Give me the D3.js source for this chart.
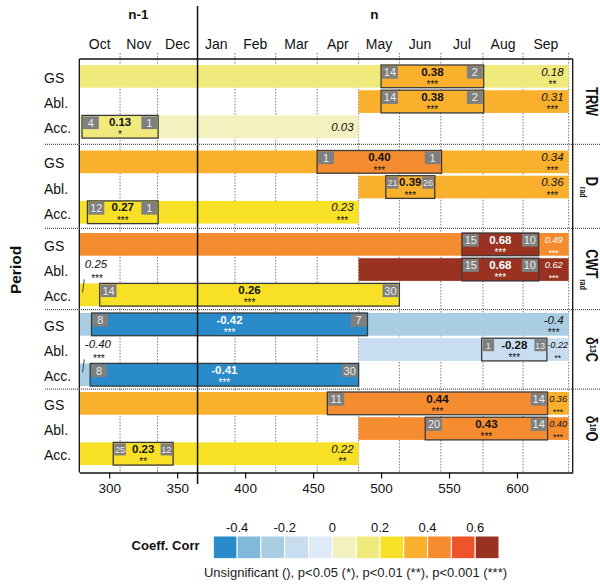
<!DOCTYPE html>
<html>
<head>
<meta charset="utf-8">
<script src="https://cdn.jsdelivr.net/npm/d3@7"></script>
<style>
  body { margin: 0; background: #fff; }
  svg { display: block; }
  text { font-family: "Liberation Sans", Arial, Helvetica, sans-serif; }
</style>
</head>
<body>
<svg id="chart" width="600" height="587"></svg>
<script>
// ---- data -------------------------------------------------------------
// Panels (proxies) and the three seasonal periods shown in each panel
const proxies = ["TRW", "D_{rad}", "CWT_{rad}", "δ^{13}C", "δ^{18}O"];
const periods = ["GS", "Abl.", "Acc."];

// Months of the hydrological year and the day-of-year of their boundaries
const months = ["Oct", "Nov", "Dec", "Jan", "Feb", "Mar", "Apr", "May", "Jun", "Jul", "Aug", "Sep"];
const monthEdges = [278, 308, 335.5, 365, 392.5, 422.5, 453, 483.5, 513.5, 544, 575, 604.5, 638];
const dayTicks = [300, 350, 400, 450, 500, 550, 600];
const yearLabels = ["n-1", "n"];

// Seasonal correlation per row (rows ordered GS, Abl., Acc. within each proxy)
const bandStart = [278, 483.5, 278,   278, 483.5, 278,   278, 483.5, 278,     278, 483.5, 278,     278, 483.5, 278];
const bandEnd   = [638, 638, 483.5,   638, 638, 483.5,   638, 638, 513.5,     638, 638, 483.5,     638, 638, 483.5];
const bandValue = ["0.18", "0.31", "0.03", "0.34", "0.36", "0.23", "0.49", "0.62", "0.25", "-0.4", "-0.22", "-0.40", "0.36", "0.40", "0.22"];
const bandSig   = ["**", "***", "",   "***", "***", "***",   "***", "***", "***",   "***", "**", "***",   "***", "***", "**"];

// Strongest correlation window per row, with its first / last window indices
const winStart = [500, 500, 280,      453, 503.5, 284,   559.5, 559.5, 293,   287, 574, 286,   460.5, 532.5, 303];
const winEnd   = [575.5, 575.5, 336,  544.5, 539.5, 336, 616, 616, 513.5,     490, 622, 483.5, 622.5, 622.5, 347];
const winValue = ["0.38", "0.38", "0.13", "0.40", "0.39", "0.27", "0.68", "0.68", "0.26", "-0.42", "-0.28", "-0.41", "0.44", "0.43", "0.23"];
const winSig   = ["***", "***", "*",  "***", "***", "***",  "***", "***", "***",  "***", "***", "***",  "***", "***", "**"];
const winFirst = ["14", "14", "4",    "1", "21", "12",     "15", "15", "14",    "8", "1", "8",      "11", "20", "25"];
const winLast  = ["2", "2", "1",      "1", "26", "1",      "10", "10", "30",    "7", "13", "30",    "14", "14", "12"];

// Colour key
const legendBreaks = [-0.5, -0.4, -0.3, -0.2, -0.1, 0, 0.1, 0.2, 0.3, 0.4, 0.5, 0.6, 0.7];
const legendColors = ["#2a8bcb", "#80b9d9", "#a9cde3", "#c8def0", "#deebf6", "#f4f1c1",
                      "#f0ea7c", "#f7e026", "#f9b02d", "#f58d30", "#ee542c", "#9a3221"];
const legendTicks = [-0.4, -0.2, 0, 0.2, 0.4, 0.6];

// ---- layout ----------------------------------------------------------
const svg = d3.select("#chart");
const plotL = 79.3, plotR = 572.7, plotT = 59, plotB = 472.5;
const panelTop = [65, 150.5, 233, 313, 392];
const rowStep = 25.2, barH = 22.7;

const x = d3.scaleLinear().domain([278, 641]).range([plotL, plotR]);
const rowScale = d3.scalePoint().domain(periods).range([0, 2 * rowStep]);
const rowY = i => panelTop[Math.floor(i / 3)] + rowScale(periods[i % 3]);

// Fill bins applied to the cells
const cellFill = d3.scaleThreshold()
  .domain([-0.405, -0.3, 0, 0.1, 0.2, 0.3, 0.4, 0.5, 0.6])
  .range([legendColors[0], legendColors[2], legendColors[3], legendColors[5], legendColors[6],
          legendColors[7], legendColors[8], legendColors[9], legendColors[10], legendColors[11]]);
const inkFor = v => (v >= 0.45 || v <= -0.405) ? "#ffffff" : "#111111";

const rows = d3.range(15);

// ---- month grid ------------------------------------------------------
svg.append("g")
  .selectAll("line")
  .data(monthEdges.filter(d => d !== monthEdges[0] && d !== 365))
  .join("line")
  .attr("x1", d => x(d)).attr("x2", d => x(d))
  .attr("y1", 53).attr("y2", plotB)
  .attr("stroke", "#7a7a7a").attr("stroke-width", 1)
  .attr("stroke-dasharray", "1.5,1.5");

svg.append("g")
  .selectAll("text")
  .data(months)
  .join("text")
  .attr("x", (d, i) => x((monthEdges[i] + monthEdges[i + 1]) / 2))
  .attr("y", 49)
  .attr("text-anchor", "middle")
  .attr("font-size", 14)
  .attr("fill", "#111")
  .text(d => d);

// year headers
const headerDays = [321.5, 495];
svg.append("g")
  .selectAll("text")
  .data(yearLabels)
  .join("text")
  .attr("x", (d, i) => x(headerDays[i]))
  .attr("y", 18.5)
  .attr("text-anchor", "middle")
  .attr("font-size", 13.5)
  .attr("font-weight", "bold")
  .attr("fill", "#111")
  .text(d => d);

// ---- season bands ----------------------------------------------------
svg.append("g")
  .selectAll("rect")
  .data(rows)
  .join("rect")
  .attr("x", i => x(bandStart[i]))
  .attr("width", i => x(bandEnd[i]) - x(bandStart[i]))
  .attr("y", i => rowY(i))
  .attr("height", barH)
  .attr("fill", i => cellFill(+bandValue[i]));

// ---- best windows ----------------------------------------------------
const win = svg.append("g");
win.selectAll("rect.win")
  .data(rows)
  .join("rect")
  .attr("class", "win")
  .attr("x", i => x(winStart[i]))
  .attr("width", i => x(winEnd[i]) - x(winStart[i]))
  .attr("y", i => rowY(i))
  .attr("height", barH)
  .attr("fill", i => cellFill(+winValue[i]))
  .attr("stroke", "#3a3a3a")
  .attr("stroke-width", 1.3);

rows.forEach(i => {
  const x0 = x(winStart[i]), x1 = x(winEnd[i]), y0 = rowY(i);
  const narrow = (x1 - x0) < 68;
  const gw = narrow ? 11.5 : 15.8, gh = narrow ? 12 : 12.7, gfs = narrow ? 9 : 11;
  const v = +winValue[i];
  const ink = inkFor(v);

  // window index tags
  [[winFirst[i], x0 + 1], [winLast[i], x1 - 1 - gw]].forEach(([t, gx]) => {
    win.append("rect")
      .attr("x", gx).attr("y", y0 + 1)
      .attr("width", gw).attr("height", gh)
      .attr("fill", "#7f7f7f");
    win.append("text")
      .attr("x", gx + gw / 2).attr("y", y0 + 1 + gh - 2.6)
      .attr("text-anchor", "middle")
      .attr("font-size", gfs)
      .attr("fill", "#ececec")
      .text(t);
  });

  const cx = (x0 + x1) / 2;
  win.append("text")
    .attr("x", cx).attr("y", y0 + 10.5)
    .attr("text-anchor", "middle")
    .attr("font-size", 11.5).attr("font-weight", "bold")
    .attr("fill", ink)
    .text(winValue[i]);
  win.append("text")
    .attr("x", cx).attr("y", y0 + 23)
    .attr("text-anchor", "middle")
    .attr("font-size", 10)
    .attr("fill", ink)
    .text(winSig[i]);
});

// ---- season band labels ---------------------------------------------
const lab = svg.append("g");
rows.forEach(i => {
  const y0 = rowY(i);
  const bx0 = x(bandStart[i]), bx1 = x(bandEnd[i]);
  const wEnd = x(winEnd[i]);
  const free = wEnd <= bx1 ? bx1 - wEnd : 0;
  const v = +bandValue[i];
  let t, w, cx;

  if (free >= 35) {
    // right-aligned inside the band
    const hasSig = bandSig[i] !== "";
    t = lab.append("text")
      .attr("x", bx1 - 5).attr("y", hasSig ? y0 + 10.5 : y0 + barH / 2 + 4.2)
      .attr("text-anchor", "end")
      .attr("font-size", 11.5).attr("font-style", "italic")
      .attr("fill", inkFor(v))
      .text(bandValue[i]);
    w = t.node().getComputedTextLength();
    cx = bx1 - 5 - w / 2;
    lab.append("text")
      .attr("x", cx).attr("y", y0 + 23)
      .attr("text-anchor", "middle").attr("font-size", 10)
      .attr("fill", inkFor(v))
      .text(bandSig[i]);
  } else if (free >= 12) {
    // squeezed between window and band end
    cx = (wEnd + bx1) / 2;
    lab.append("text")
      .attr("x", cx).attr("y", y0 + 10)
      .attr("text-anchor", "middle")
      .attr("font-size", 9.2).attr("font-style", "italic")
      .attr("fill", inkFor(v))
      .text(bandValue[i]);
    lab.append("text")
      .attr("x", cx).attr("y", y0 + 22.5)
      .attr("text-anchor", "middle").attr("font-size", 8.5)
      .attr("fill", inkFor(v))
      .text(bandSig[i]);
  } else {
    // no room: label above the row with a leader
    t = lab.append("text")
      .attr("x", bx0 + 5.5).attr("y", y0 - 15)
      .attr("font-size", 11.5).attr("font-style", "italic")
      .attr("fill", "#111")
      .text(bandValue[i]);
    w = t.node().getComputedTextLength();
    lab.append("text")
      .attr("x", bx0 + 5.5 + w / 2 + 1).attr("y", y0 - 1.5)
      .attr("text-anchor", "middle").attr("font-size", 10)
      .attr("fill", "#111")
      .text(bandSig[i]);
    lab.append("line")
      .attr("x1", bx0 + 3.2).attr("y1", y0 + 9)
      .attr("x2", bx0 + 5).attr("y2", y0 - 4)
      .attr("stroke", "#333").attr("stroke-width", 0.9);
  }
});

// ---- row labels ------------------------------------------------------
svg.append("g")
  .selectAll("text")
  .data(rows)
  .join("text")
  .attr("x", 44)
  .attr("y", i => rowY(i) + barH / 2 + 6.5)
  .attr("font-size", 14)
  .attr("fill", "#111")
  .text(i => periods[i % 3]);

// ---- frame, axis, separators ----------------------------------------
const frame = svg.append("g").attr("stroke", "#111").attr("stroke-width", 1.3).attr("fill", "none");
frame.append("line").attr("x1", plotL).attr("x2", plotR).attr("y1", plotT).attr("y2", plotT);
frame.append("line").attr("x1", plotL).attr("x2", plotL).attr("y1", plotT).attr("y2", plotB);
frame.append("line").attr("x1", plotR).attr("x2", plotR).attr("y1", plotT).attr("y2", plotB);

const axis = svg.append("g")
  .attr("transform", `translate(0,${plotB})`)
  .call(d3.axisBottom(x).tickValues(dayTicks).tickSize(6).tickSizeOuter(0).tickPadding(5));
axis.select(".domain").attr("stroke", "#111").attr("stroke-width", 1.3);
axis.selectAll(".tick line").attr("stroke", "#111").attr("stroke-width", 1.2);
axis.selectAll(".tick text")
  .attr("font-size", 13.5)
  .attr("font-family", '"Liberation Sans", Arial, sans-serif')
  .attr("fill", "#111");

// start of year n
svg.append("line")
  .attr("x1", x(365)).attr("x2", x(365))
  .attr("y1", 6).attr("y2", 484)
  .attr("stroke", "#111").attr("stroke-width", 1.5);

// panel separators
svg.append("g")
  .selectAll("line")
  .data(d3.range(4))
  .join("line")
  .attr("x1", 45).attr("x2", 600)
  .attr("y1", p => (rowY(p * 3 + 2) + barH + panelTop[p + 1]) / 2)
  .attr("y2", p => (rowY(p * 3 + 2) + barH + panelTop[p + 1]) / 2)
  .attr("stroke", "#555").attr("stroke-width", 1.3)
  .attr("stroke-dasharray", "1,1");

// ---- proxy names (rotated, right side) -------------------------------
proxies.forEach((name, p) => {
  const cy = rowY(p * 3 + 1) + barH / 2;
  const g = svg.append("text")
    .attr("transform", `translate(585.5,${cy}) rotate(90) scale(0.8,1)`)
    .attr("text-anchor", "middle")
    .attr("font-size", 16)
    .attr("font-weight", "bold")
    .attr("fill", "#111");
  // simple markup: _{sub} and ^{sup}
  const parts = name.split(/(_\{[^}]*\}|\^\{[^}]*\})/).filter(s => s.length);
  let shift = 0;
  parts.forEach(s => {
    if (s.startsWith("_{")) {
      g.append("tspan").attr("dy", 5 - shift).attr("font-size", 8.5).attr("dx", 1).text(s.slice(2, -1));
      shift = 5;
    } else if (s.startsWith("^{")) {
      g.append("tspan").attr("dy", -5 - shift).attr("font-size", 9).text(s.slice(2, -1));
      shift = -5;
    } else {
      g.append("tspan").attr("dy", -shift).text(s);
      shift = 0;
    }
  });
});

// ---- axis title ------------------------------------------------------
svg.append("text")
  .attr("transform", "translate(21,270) rotate(-90)")
  .attr("text-anchor", "middle")
  .attr("font-size", 15.5)
  .attr("font-weight", "bold")
  .attr("fill", "#111")
  .text("Period");

// ---- colour key ------------------------------------------------------
const lx = d3.scaleLinear().domain([legendBreaks[0], legendBreaks[legendBreaks.length - 1]]).range([213.3, 499]);
const key = svg.append("g");
key.selectAll("rect")
  .data(legendColors)
  .join("rect")
  .attr("x", (d, i) => lx(legendBreaks[i]))
  .attr("width", (d, i) => lx(legendBreaks[i + 1]) - lx(legendBreaks[i]))
  .attr("y", 536).attr("height", 22.7)
  .attr("fill", d => d)
  .attr("stroke", "#fff").attr("stroke-width", 1);
key.selectAll("text.tick")
  .data(legendTicks)
  .join("text")
  .attr("class", "tick")
  .attr("x", d => lx(d))
  .attr("y", 531.5)
  .attr("text-anchor", "middle")
  .attr("font-size", 13)
  .attr("fill", "#111")
  .text(d => d === 0 ? "0" : d.toFixed(1));
key.append("text")
  .attr("x", 199.5).attr("y", 549.5)
  .attr("text-anchor", "end")
  .attr("font-size", 13).attr("font-weight", "bold")
  .attr("fill", "#111")
  .text("Coeff. Corr");
key.append("text")
  .attr("x", 355.5).attr("y", 576.5)
  .attr("text-anchor", "middle")
  .attr("font-size", 13)
  .attr("fill", "#222")
  .text("Unsignificant (), p<0.05 (*), p<0.01 (**), p<0.001 (***)");
</script>
</body>
</html>
